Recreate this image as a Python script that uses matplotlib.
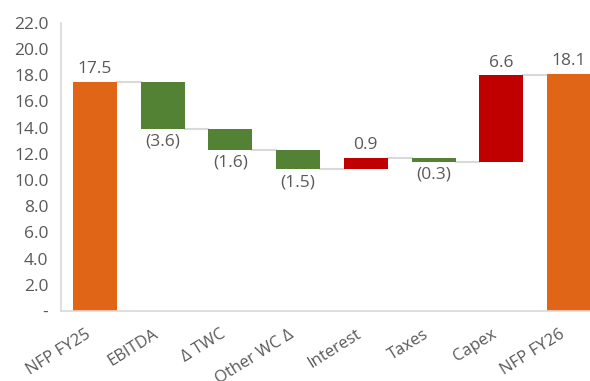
import numpy as np
import matplotlib.pyplot as plt
from matplotlib.transforms import ScaledTranslation

categories = ["NFP FY25", "EBITDA", "\u0394 TWC", "Other WC \u0394", "Interest", "Taxes", "Capex", "NFP FY26"]
values     = [17.5, -3.6, -1.6, -1.5, 0.9, -0.3, 6.6, 18.1]
is_total   = [True, False, False, False, False, False, False, True]

ORANGE = "#E06516"
GREEN  = "#548235"
RED    = "#C00000"
GREY   = "#595959"
LINE   = "#D9D9D9"

plt.rcParams['font.family'] = ['Open Sans', 'DejaVu Sans']

fig = plt.figure(figsize=(5.9, 3.81), dpi=100)
ax = fig.add_axes([61/590, 70/381, 1 - 61/590, (311 - 22.7)/381])

w = 0.65
x = np.arange(len(categories))
run = 0.0
levels = []
for i, (v, tot) in enumerate(zip(values, is_total)):
    if tot:
        bottom, height, color = 0, v, ORANGE
        run = v
        top = v
    else:
        start = run
        run = run + v
        bottom, height = min(start, run), abs(v)
        color = GREEN if v < 0 else RED
        top = bottom + height
    ax.bar(x[i], height, bottom=bottom, width=w, color=color, zorder=2)
    levels.append(run)

    if tot or v > 0:
        ax.text(x[i], top + 0.35, f"{v:.1f}", ha="center", va="bottom", fontsize=12.5, color=GREY)
    else:
        ax.text(x[i], bottom - 0.35, f"({abs(v):.1f})", ha="center", va="top", fontsize=12.5, color=GREY)

# connectors
for i in range(len(categories) - 1):
    ax.plot([x[i] + w/2, x[i+1] - w/2], [levels[i], levels[i]], color=LINE, lw=1.5, zorder=1)

ax.set_xlim(-0.5, 7.31)
ax.set_ylim(0, 22)
yt = np.arange(0, 22.1, 2)
ax.set_yticks(yt)
ax.set_yticklabels(["-"] + [f"{t:.1f}" for t in yt[1:]])
ax.set_xticks(x)
ax.set_xticklabels(categories, rotation=32, ha="right", rotation_mode="anchor")
ax.tick_params(axis="y", length=0, labelsize=12.5, colors=GREY, pad=9)
ax.tick_params(axis="x", length=0, labelsize=12, colors=GREY, pad=11)
for lab in ax.get_xticklabels():
    lab.set_transform(lab.get_transform() + ScaledTranslation(-10/100, 0, fig.dpi_scale_trans))

for s in ["top", "right"]:
    ax.spines[s].set_visible(False)
for s in ["left", "bottom"]:
    ax.spines[s].set_color(LINE)
    ax.spines[s].set_linewidth(1.2)

fig.savefig("out.png", dpi=100)
